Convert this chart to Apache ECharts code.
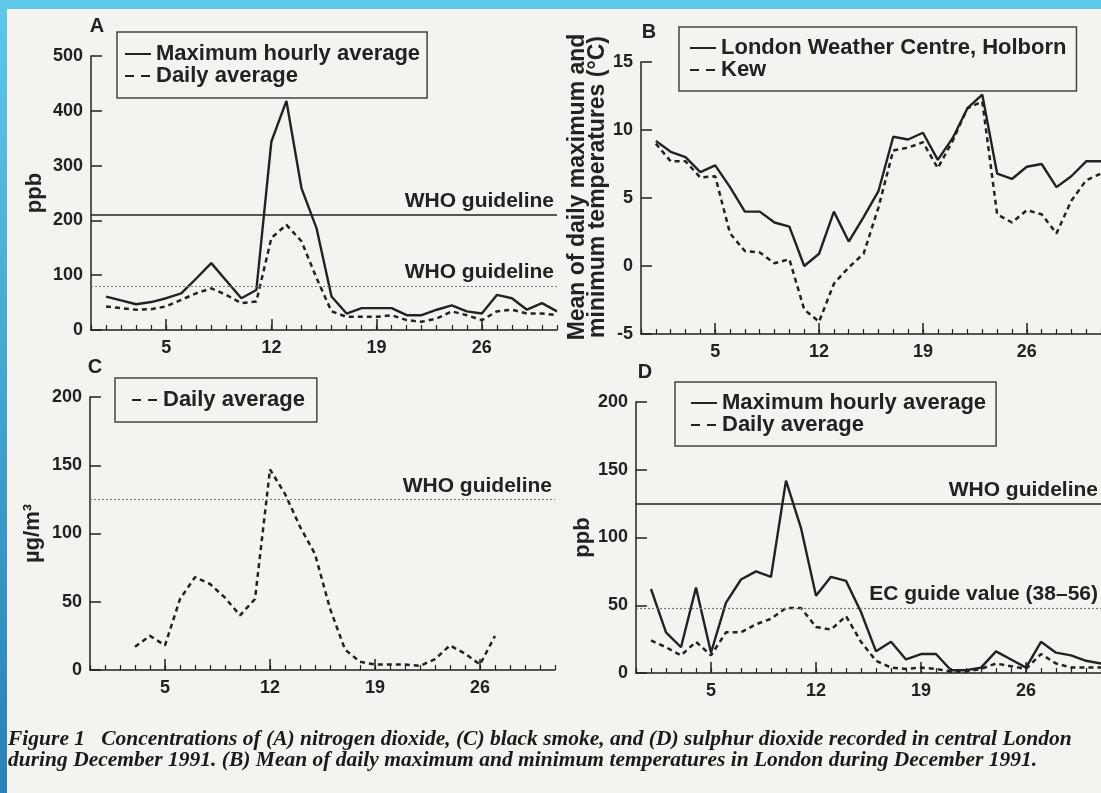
<!DOCTYPE html>
<html>
<head>
<meta charset="utf-8">
<script src="https://cdn.jsdelivr.net/npm/echarts@6/dist/echarts.min.js"></script>
<style>
    html, body { margin: 0; padding: 0; background: #f4f3ef; }
    #main { width: 1101px; height: 793px; }
</style>
</head>
<body>
<div id="main"></div>
<script>
// x categories: days of December 1991 (0 = axis origin)
var dayCats = ['0', '1', '2', '3', '4', '5', '6', '7', '8', '9', '10', '11', '12', '13', '14', '15',
    '16', '17', '18', '19', '20', '21', '22', '23', '24', '25', '26', '27', '28', '29', '30', '31'];
var dayLabels = [5, 12, 19, 26];
var monthDays = [1, 2, 3, 4, 5, 6, 7, 8, 9, 10, 11, 12, 13, 14, 15, 16, 17, 18, 19, 20, 21, 22, 23, 24, 25, 26, 27, 28, 29, 30, 31];
var smokeDays = [3, 4, 5, 6, 7, 8, 9, 10, 11, 12, 13, 14, 15, 16, 17, 18, 19, 20, 21, 22, 23, 24, 25, 26, 27];

// A - nitrogen dioxide (ppb)
var no2Max = [61, 54, 47, 51, 58, 67, 94, 122, 90, 58, 73, 344, 418, 259, 186, 61, 30, 40, 40, 40, 27, 27, 37, 45, 34, 30, 64, 58, 37, 49, 34];
var no2Avg = [43, 40, 37, 38, 43, 55, 67, 76, 64, 49, 52, 168, 192, 162, 95, 34, 24, 24, 24, 27, 18, 15, 21, 34, 27, 18, 34, 37, 30, 30, 27];
var no2Guide = [210, 80];

// B - mean of daily max and min temperature (deg C)
var tempHolborn = [9.2, 8.4, 8.0, 6.9, 7.4, 5.8, 4.0, 4.0, 3.2, 2.9, 0.0, 0.9, 4.0, 1.8, 3.6, 5.5, 9.5, 9.3, 9.8, 7.8, 9.4, 11.6, 12.6, 6.8, 6.4, 7.3, 7.5, 5.8, 6.6, 7.7, 7.7];
var tempKew = [9.0, 7.7, 7.7, 6.5, 6.6, 2.4, 1.1, 1.0, 0.2, 0.5, -3.2, -4.1, -1.3, -0.1, 0.9, 4.3, 8.5, 8.7, 9.1, 7.2, 9.2, 11.6, 12.1, 3.8, 3.2, 4.1, 3.8, 2.4, 4.8, 6.3, 6.8];

// C - black smoke (ug/m3)
var smokeAvg = [17, 25, 18, 52, 68, 63, 53, 40, 52, 147, 129, 105, 85, 45, 15, 6, 4, 4, 4, 3, 8, 18, 12, 4, 25];
var smokeGuide = 125;

// D - sulphur dioxide (ppb)
var so2Max = [62, 30, 19, 63, 15, 52, 69, 75, 71, 142, 107, 57, 71, 68, 45, 16, 23, 10, 14, 14, 2, 2, 4, 16, 10, 4, 23, 15, 13, 9, 7];
var so2Avg = [24, 19, 13, 23, 13, 30, 30, 36, 40, 48, 48, 34, 32, 42, 23, 9, 4, 3, 4, 3, 1, 1, 3, 7, 5, 3, 14, 7, 4, 4, 4];
var so2Guide = [125, 48];

var ink = '#222';
var font = 'Liberation Sans, Arial, sans-serif';
var serif = 'Liberation Serif, Times New Roman, serif';

function pairs(xs, ys) {
    return ys.map(function (v, i) { return [String(xs[i]), v]; });
}
function isLabelDay(i) {
    return dayLabels.indexOf(i) >= 0;
}

// x axes: one with the day ticks and labels, one on top of it with the long ticks only
function dayAxes(grid) {
    return [{
        type: 'category', gridIndex: grid, data: dayCats, boundaryGap: false, position: 'bottom',
        axisLine: { show: true, onZero: false, lineStyle: { color: ink, width: 1.5 } },
        axisTick: { show: true, inside: true, length: 5, interval: 0, lineStyle: { color: ink, width: 1.2 } },
        axisLabel: {
            interval: function (i) { return isLabelDay(i); },
            color: ink, fontFamily: font, fontSize: 18, fontWeight: 'bold', margin: 9
        },
        splitLine: { show: false }
    }, {
        type: 'category', gridIndex: grid, data: dayCats, boundaryGap: false, position: 'bottom',
        axisLine: { show: false, onZero: false },
        axisTick: { show: true, inside: true, length: 11, interval: function (i) { return isLabelDay(i); }, lineStyle: { color: ink, width: 1.5 } },
        axisLabel: { show: false },
        splitLine: { show: false }
    }];
}

function valAxis(grid, min, max, step, name, gap, size, pad) {
    return {
        type: 'value', gridIndex: grid, min: min, max: max, interval: step,
        name: name, nameLocation: 'middle', nameRotate: 90, nameGap: gap,
        nameTextStyle: { color: ink, fontFamily: font, fontSize: size, fontWeight: 'bold', lineHeight: 20, padding: pad || 0 },
        axisLine: { show: true, onZero: false, lineStyle: { color: ink, width: 1.5 } },
        axisTick: { show: true, inside: true, length: 11, lineStyle: { color: ink, width: 1.5 } },
        axisLabel: { color: ink, fontFamily: font, fontSize: 18, fontWeight: 'bold', margin: 8 },
        splitLine: { show: false }
    };
}

var solid = { color: ink, width: 2.4 };
var dashed = { color: ink, width: 2.5, type: [5, 4] };
var guideLabel = { position: 'insideEndTop', color: ink, fontFamily: font, fontSize: 21, fontWeight: 'bold', distance: 3 };
var solidGuide = { color: ink, width: 1.5, type: 'solid' };
var dotGuide = { color: '#777', width: 1.2, type: [2, 2] };

var legendText = { color: ink, fontFamily: font, fontSize: 22, fontWeight: 'bold', lineHeight: 20 };
function legendBox(left, top, pad, names) {
    return {
        orient: 'vertical', left: left, top: top, padding: pad,
        itemWidth: 26, itemHeight: 12, itemGap: 0,
        borderColor: '#444', borderWidth: 1.5,
        selectedMode: false,
        itemStyle: { opacity: 0 },
        textStyle: legendText,
        data: names
    };
}

var chart = echarts.init(document.getElementById('main'));
var option = {
    animation: false,
    backgroundColor: '#f4f3ef',
    color: [ink],
    textStyle: { fontFamily: font },
    grid: [
        { left: 91, top: 56, width: 466, height: 274 },
        { left: 641, top: 62, width: 461, height: 272 },
        { left: 90, top: 397, width: 465, height: 273 },
        { left: 636, top: 402, width: 466, height: 271 }
    ],
    xAxis: [].concat(dayAxes(0), dayAxes(1), dayAxes(2), dayAxes(3)),
    yAxis: [
        valAxis(0, 0, 500, 100, 'ppb', 46, 22),
        valAxis(1, -5, 15, 5, 'Mean of daily maximum and\nminimum temperatures (°C)', 25, 23, [0, 0, 0, 22]),
        valAxis(2, 0, 200, 50, 'µg/m³', 47, 22),
        valAxis(3, 0, 200, 50, 'ppb', 40, 22)
    ],
    legend: [
        legendBox(117, 32, [11, 7, 11, 7], ['Maximum hourly average', { name: 'Daily average', lineStyle: { type: [9, 7] } }]),
        legendBox(679, 27, [10, 10, 10, 10], ['London Weather Centre, Holborn', { name: 'Kew', lineStyle: { type: [9, 7] } }]),
        legendBox(115, 378, [11, 12, 11, 16], [{ name: 'Daily average', lineStyle: { type: [9, 7] } }]),
        legendBox(675, 382, [10, 10, 10, 15], ['Maximum hourly average', { name: 'Daily average', lineStyle: { type: [9, 7] } }])
    ],
    series: [
        {
            name: 'Maximum hourly average', type: 'line', xAxisIndex: 0, yAxisIndex: 0,
            symbol: 'none', lineStyle: solid, data: pairs(monthDays, no2Max),
            markLine: {
                silent: true, symbol: 'none', label: guideLabel,
                data: [
                    { yAxis: no2Guide[0], lineStyle: solidGuide, label: { formatter: 'WHO guideline' } },
                    { yAxis: no2Guide[1], lineStyle: dotGuide, label: { formatter: 'WHO guideline' } }
                ]
            }
        },
        {
            name: 'Daily average', type: 'line', xAxisIndex: 0, yAxisIndex: 0,
            symbol: 'none', lineStyle: dashed, data: pairs(monthDays, no2Avg)
        },
        {
            name: 'London Weather Centre, Holborn', type: 'line', xAxisIndex: 2, yAxisIndex: 1,
            symbol: 'none', lineStyle: solid, data: pairs(monthDays, tempHolborn)
        },
        {
            name: 'Kew', type: 'line', xAxisIndex: 2, yAxisIndex: 1,
            symbol: 'none', lineStyle: dashed, data: pairs(monthDays, tempKew)
        },
        {
            name: 'Daily average', type: 'line', xAxisIndex: 4, yAxisIndex: 2,
            symbol: 'none', lineStyle: dashed, data: pairs(smokeDays, smokeAvg),
            markLine: {
                silent: true, symbol: 'none', label: guideLabel,
                data: [{ yAxis: smokeGuide, lineStyle: dotGuide, label: { formatter: 'WHO guideline' } }]
            }
        },
        {
            name: 'Maximum hourly average', type: 'line', xAxisIndex: 6, yAxisIndex: 3,
            symbol: 'none', lineStyle: solid, data: pairs(monthDays, so2Max),
            markLine: {
                silent: true, symbol: 'none', label: guideLabel,
                data: [
                    { yAxis: so2Guide[0], lineStyle: solidGuide, label: { formatter: 'WHO guideline' } },
                    { yAxis: so2Guide[1], lineStyle: dotGuide, label: { formatter: 'EC guide value (38–56)' } }
                ]
            }
        },
        {
            name: 'Daily average', type: 'line', xAxisIndex: 6, yAxisIndex: 3,
            symbol: 'none', lineStyle: dashed, data: pairs(monthDays, so2Avg)
        }
    ],
    graphic: [
        // slide frame
        { type: 'rect', z: 10, shape: { x: 0, y: 0, width: 1101, height: 9 }, style: { fill: '#5ec8e8' } },
        {
            type: 'rect', z: 10, shape: { x: 0, y: 0, width: 7, height: 793 },
            style: { fill: new echarts.graphic.LinearGradient(0, 0, 0, 1, [{ offset: 0, color: '#5ec8e8' }, { offset: 1, color: '#2a7fb6' }]) }
        },
        // panel letters
        { type: 'text', x: 97, y: 26, style: { text: 'A', fill: ink, font: 'bold 20px ' + font, align: 'center', verticalAlign: 'middle' } },
        { type: 'text', x: 649, y: 32, style: { text: 'B', fill: ink, font: 'bold 20px ' + font, align: 'center', verticalAlign: 'middle' } },
        { type: 'text', x: 95, y: 367, style: { text: 'C', fill: ink, font: 'bold 20px ' + font, align: 'center', verticalAlign: 'middle' } },
        { type: 'text', x: 645, y: 372, style: { text: 'D', fill: ink, font: 'bold 20px ' + font, align: 'center', verticalAlign: 'middle' } },
        // caption
        {
            type: 'text', x: 8, y: 739,
            style: {
                text: 'Figure 1   Concentrations of (A) nitrogen dioxide, (C) black smoke, and (D) sulphur dioxide recorded in central London',
                fill: '#1a1a1a', font: 'italic bold 21.5px ' + serif, verticalAlign: 'middle'
            }
        },
        {
            type: 'text', x: 8, y: 760,
            style: {
                text: 'during December 1991. (B) Mean of daily maximum and minimum temperatures in London during December 1991.',
                fill: '#1a1a1a', font: 'italic bold 21.5px ' + serif, verticalAlign: 'middle'
            }
        }
    ]
};
chart.setOption(option);
</script>
</body>
</html>
